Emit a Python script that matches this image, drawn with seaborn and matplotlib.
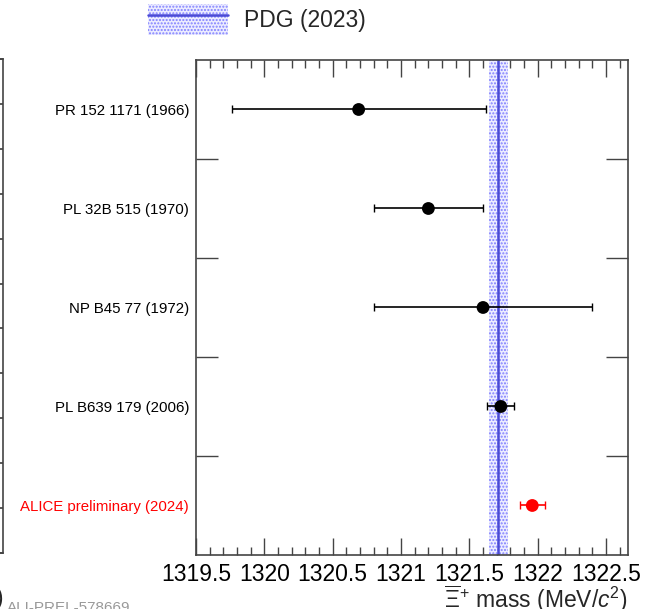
import numpy as np
import pandas as pd
import seaborn as sns
import matplotlib.pyplot as plt
from matplotlib.ticker import MultipleLocator, FixedLocator, FuncFormatter
from matplotlib.patches import Patch
from matplotlib.lines import Line2D
from matplotlib.legend_handler import HandlerTuple

# measurements of the anti-Xi+ mass
sources = ["PR 152 1171 (1966)", "PL 32B 515 (1970)", "NP B45 77 (1972)",
           "PL B639 179 (2006)", "ALICE preliminary (2024)"]
mass = [1320.69, 1321.20, 1321.60, 1321.73, 1321.96]
mass_err = [0.93, 0.40, 0.80, 0.10, 0.09]
colors = ["black", "black", "black", "black", "red"]

# PDG average
pdg_mass = 1321.71
pdg_err = 0.07

sns.set_theme(style="ticks")
plt.rcParams['font.family'] = ['Liberation Sans', 'DejaVu Sans']
plt.rcParams['mathtext.fontset'] = 'custom'
plt.rcParams['mathtext.rm'] = 'Liberation Sans'
plt.rcParams['mathtext.it'] = 'Liberation Sans:italic'
plt.rcParams['hatch.linewidth'] = 1.0
plt.rcParams['hatch.color'] = '#7f7fff'

df = pd.DataFrame({'source': sources, 'mass': mass, 'err': mass_err})
df['pos'] = len(df) - 0.5 - np.arange(len(df))

fig = plt.figure(figsize=(6.57, 6.09), dpi=100)
ax = fig.add_axes([0.2983, 0.0887, 0.6575, 0.8128])

# PDG band + central value
ax.axvspan(pdg_mass - pdg_err, pdg_mass + pdg_err, facecolor='#ececff',
           edgecolor='#7f7fff', hatch='.....', lw=0, zorder=1)
ax.axvline(pdg_mass, color='#4a4ad6', lw=1.8, zorder=2)

# error bars then the markers
for _, row in df.iterrows():
    c = colors[sources.index(row['source'])]
    ax.errorbar(row['mass'], row['pos'], xerr=row['err'], fmt='none', ecolor=c,
                elinewidth=1.2, capsize=3, capthick=1.0, zorder=3)
sns.scatterplot(data=df, x='mass', y='pos', hue='source', palette=colors,
                s=85, linewidth=0, legend=False, ax=ax, zorder=4)

ax.set_xlim(1319.5, 1322.66)
ax.set_ylim(0, 5)

ax.xaxis.set_major_locator(MultipleLocator(0.5))
ax.xaxis.set_minor_locator(MultipleLocator(0.1))
ax.xaxis.set_major_formatter(FuncFormatter(lambda v, p: "%g" % v))
ax.tick_params(axis='x', which='major', direction='in', length=12, width=1.0,
               top=True, bottom=True, labelsize=16.5, pad=6, colors='#444444',
               labelcolor='black')
ax.tick_params(axis='x', which='minor', direction='in', length=6, width=1.0,
               top=True, bottom=True, colors='#444444')

ax.yaxis.set_major_locator(FixedLocator([1, 2, 3, 4]))
ax.yaxis.set_major_formatter(FuncFormatter(lambda v, p: ""))
ax.yaxis.set_minor_locator(FixedLocator(df['pos'].tolist()))
ax.set_yticklabels(df['source'].tolist(), minor=True)
ax.tick_params(axis='y', which='major', direction='in', length=16, width=1.0,
               left=True, right=True, colors='#444444')
ax.tick_params(axis='y', which='minor', length=0, labelsize=10.8, pad=5)
for lab, c in zip(ax.get_yticklabels(minor=True), colors):
    lab.set_color(c)

for s in ax.spines.values():
    s.set_color('#444444')
    s.set_linewidth(1.2)

ax.set_xlabel(r'$\overline{\Xi}^{+}$ mass (MeV/$c^{2}$)', fontsize=16.5,
              loc='right', labelpad=-2)
ax.set_ylabel("")

# legend for PDG band
band_handle = (Patch(facecolor='#ececff', edgecolor='#7f7fff', hatch='.....', lw=0),
               Line2D([], [], color='#4a4ad6', lw=1.8))
fig.legend(handles=[band_handle], labels=['PDG (2023)'],
           handler_map={tuple: HandlerTuple(ndivide=1, pad=0)},
           loc='upper left', bbox_to_anchor=(148 / 657, 1 - 4 / 609),
           frameon=False, fontsize=16.5, handlelength=3.5, handleheight=1.7,
           handletextpad=0.7, borderpad=0, borderaxespad=0)

# edge of the neighbouring panel (cut off)
axl = fig.add_axes([-0.3, 1 - 553 / 609, 0.3 + 3 / 657, 494 / 609])
axl.set_xlim(0, 1)
axl.set_ylim(0, 11)
axl.set_xticks([])
axl.yaxis.set_major_locator(MultipleLocator(1))
axl.tick_params(axis='y', direction='in', length=10, left=False, right=True,
                labelleft=False, colors='#444444')
for s in axl.spines.values():
    s.set_color('#444444')
    s.set_linewidth(1.2)
fig.text(3 / 657, 1 - 598 / 609, ")", ha='right', va='center', fontsize=16.5)
fig.text(7 / 657, 1 - 601 / 609, "ALI-PREL-578669", ha='left', va='top',
         fontsize=11, color='#999999')

fig.savefig("out.png", dpi=100)
